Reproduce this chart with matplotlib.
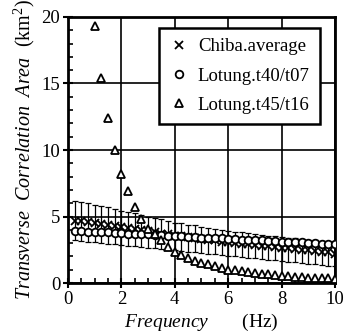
import matplotlib
matplotlib.use("Agg")
import matplotlib.pyplot as plt
from matplotlib.ticker import MultipleLocator

plt.rcParams['font.family'] = ['Liberation Serif', 'DejaVu Serif']
plt.rcParams['mathtext.fontset'] = 'custom'
plt.rcParams['mathtext.rm'] = 'Liberation Serif'
plt.rcParams['mathtext.it'] = 'Liberation Serif:italic'

freq_chiba = [0.25, 0.5, 0.75, 1.0, 1.25, 1.5, 1.75, 2.0, 2.25, 2.5, 2.75, 3.0, 3.25, 3.5, 3.75, 4.0,
              4.25, 4.5, 4.75, 5.0, 5.25, 5.5, 5.75, 6.0, 6.25, 6.5, 6.75, 7.0, 7.25, 7.5, 7.75, 8.0,
              8.25, 8.5, 8.75, 9.0, 9.25, 9.5, 9.75, 10.0]
chiba_avg = [4.7, 4.65, 4.6, 4.5, 4.45, 4.4, 4.3, 4.25, 4.15, 4.1, 4.0, 3.9, 3.8, 3.7, 3.65, 3.55,
             3.5, 3.45, 3.4, 3.3, 3.25, 3.2, 3.1, 3.05, 3.0, 2.95, 2.9, 2.85, 2.8, 2.75, 2.7, 2.65,
             2.6, 2.55, 2.5, 2.45, 2.4, 2.35, 2.3, 2.2]
chiba_upper = [6.2, 6.1, 6.0, 5.9, 5.8, 5.7, 5.55, 5.45, 5.35, 5.25, 5.1, 5.0, 4.9, 4.8, 4.7, 4.55,
               4.5, 4.4, 4.35, 4.25, 4.15, 4.1, 4.0, 3.95, 3.85, 3.8, 3.75, 3.65, 3.6, 3.55, 3.5, 3.45,
               3.4, 3.35, 3.3, 3.25, 3.2, 3.15, 3.1, 3.0]
chiba_lower = [3.2, 3.15, 3.1, 3.05, 3.0, 2.95, 2.9, 2.85, 2.8, 2.75, 2.7, 2.65, 2.6, 2.55, 2.5, 2.45,
               2.4, 2.35, 2.3, 2.25, 2.2, 2.15, 2.1, 2.05, 2.0, 1.95, 1.9, 1.85, 1.8, 1.75, 1.7, 1.65,
               1.6, 1.55, 1.5, 1.45, 1.4, 1.35, 1.3, 1.25]

freq_t40 = freq_chiba
lotung_t40 = [3.9, 3.9, 3.85, 3.85, 3.8, 3.8, 3.75, 3.75, 3.7, 3.7, 3.65, 3.65, 3.6, 3.6, 3.55, 3.5,
              3.5, 3.45, 3.45, 3.4, 3.4, 3.35, 3.35, 3.3, 3.3, 3.25, 3.25, 3.2, 3.2, 3.15, 3.15, 3.1,
              3.1, 3.05, 3.05, 3.0, 3.0, 2.95, 2.95, 2.9]

freq_t45 = [1.0, 1.25, 1.5, 1.75, 2.0, 2.25, 2.5, 2.75, 3.0, 3.25, 3.5, 3.75, 4.0, 4.25, 4.5, 4.75,
            5.0, 5.25, 5.5, 5.75, 6.0, 6.25, 6.5, 6.75, 7.0, 7.25, 7.5, 7.75, 8.0, 8.25, 8.5, 8.75,
            9.0, 9.25, 9.5, 9.75, 10.0]
lotung_t45 = [19.3, 15.4, 12.4, 10.0, 8.2, 6.9, 5.7, 4.8, 4.1, 3.7, 3.2, 2.7, 2.3, 2.1, 1.85, 1.65,
              1.5, 1.4, 1.3, 1.15, 1.0, 0.95, 0.9, 0.85, 0.75, 0.7, 0.65, 0.6, 0.5, 0.5, 0.45, 0.45,
              0.4, 0.4, 0.35, 0.35, 0.3]

labels = ["Chiba.average", "Lotung.t40/t07", "Lotung.t45/t16"]

fig = plt.figure(figsize=(3.45, 3.33), dpi=100)
ax = fig.add_axes([0.197, 0.150, 0.774, 0.799])

yerr = [[a - l for a, l in zip(chiba_avg, chiba_lower)],
        [u - a for a, u in zip(chiba_avg, chiba_upper)]]
ax.errorbar(freq_chiba, chiba_avg, yerr=yerr, fmt='none', ecolor='black',
            elinewidth=0.9, capsize=2.5, capthick=0.9, zorder=3)
ax.plot(freq_chiba, chiba_avg, linestyle='none', marker='x', ms=5.5, mew=1.3,
        color='black', label=labels[0], zorder=4)
ax.plot(freq_t40, lotung_t40, linestyle='none', marker='o', ms=5.5, mew=1.3,
        mfc='white', mec='black', label=labels[1], zorder=4)
ax.plot(freq_t45, lotung_t45, linestyle='none', marker='^', ms=6, mew=1.3,
        mfc='white', mec='black', label=labels[2], zorder=4)

ax.set_xlim(0, 10)
ax.set_ylim(0, 20)
ax.xaxis.set_major_locator(MultipleLocator(2))
ax.xaxis.set_minor_locator(MultipleLocator(0.5))
ax.yaxis.set_major_locator(MultipleLocator(5))
ax.yaxis.set_minor_locator(MultipleLocator(1))
ax.grid(True, which='major', color='black', linewidth=1.2)
ax.set_axisbelow(True)
ax.tick_params(which='major', direction='inout', length=7, width=1.5, labelsize=13.5, pad=2)
ax.tick_params(which='minor', direction='in', length=3.5, width=1.2)
for s in ax.spines.values():
    s.set_linewidth(2)

ax.set_xlabel(r"$\mathit{Frequency}$       (Hz)", fontsize=14, labelpad=3)
ax.set_ylabel(r"$\mathit{Transverse\ \ Correlation\ \ Area}$  (km$^2$)", fontsize=14.5, labelpad=3)

leg = ax.legend(loc='upper right', bbox_to_anchor=(0.944, 0.959), fontsize=13.5,
                frameon=True, fancybox=False, edgecolor='black', borderpad=0.55,
                handletextpad=0.5, labelspacing=0.65, handlelength=1.0, borderaxespad=0)
leg.get_frame().set_linewidth(1.8)
leg.get_frame().set_alpha(1)

fig.savefig("out.png", dpi=100)
